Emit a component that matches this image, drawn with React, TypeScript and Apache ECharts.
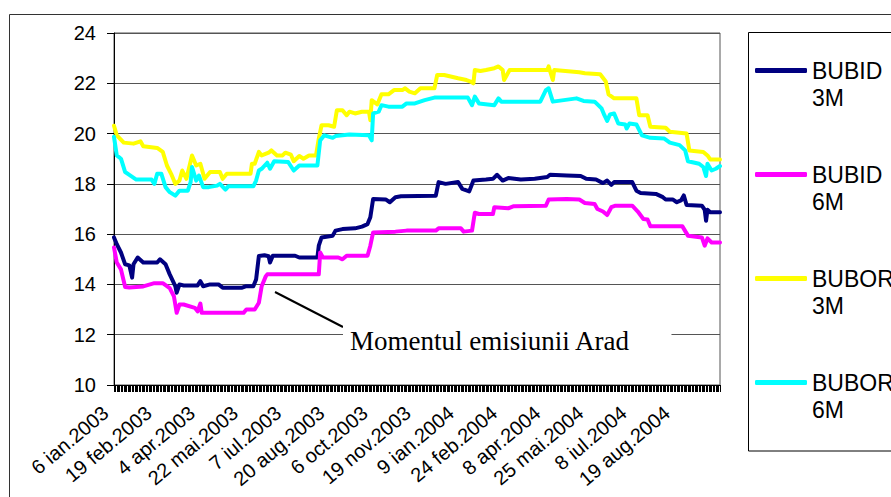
import React, { useEffect, useRef } from "react";
import * as echarts from "echarts";

// ---- data ----
const CATEGORY_COUNT = 436; // trading days shown on the axis
const CATEGORIES: string[] = Array.from({ length: CATEGORY_COUNT }, (_, i) => String(i));
const LABEL_STEP = 31;
const TICK_LABELS = [
  "6 ian.2003", "19 feb.2003", "4 apr.2003", "22 mai.2003", "7 iul.2003", "20 aug.2003",
  "6 oct.2003", "19 nov.2003", "9 ian.2004", "24 feb.2004", "8 apr.2004", "25 mai.2004",
  "8 iul.2004", "19 aug.2004",
];
const SERIES_NAMES = ["BUBID 3M", "BUBID 6M", "BUBOR 3M", "BUBOR 6M"];
const SERIES_COLORS = ["#000080", "#FF00FF", "#FFFF00", "#00FFFF"];

const BUBID_3M: [number, number][] = [
  [0,15.87],[2,15.6],[5,15.27],[8,14.8],[11,14.76],[13,14.27],[14,14.8],[17,15.07],[21,14.87],[31,14.87],
  [33,15.0],[37,14.8],[40,14.4],[44,13.93],[45,13.67],[47,14.0],[50,13.96],[60,13.96],[62,14.13],[64,13.93],
  [69,14.0],[75,14.0],[78,13.87],[92,13.87],[95,13.93],[100,13.93],[102,14.2],[104,15.13],[108,15.16],[111,15.12],
  [112,14.87],[114,15.14],[130,15.14],[133,15.07],[146,15.07],[147,15.54],[149,15.87],[157,15.94],[159,16.14],[164,16.2],
  [173,16.23],[178,16.3],[182,16.4],[184,16.67],[186,17.4],[195,17.38],[198,17.27],[202,17.47],[206,17.51],[231,17.53],
  [233,18.07],[238,18.0],[247,18.07],[250,17.8],[255,17.7],[258,18.13],[267,18.17],[272,18.2],[275,18.36],[279,18.13],
  [283,18.23],[292,18.17],[302,18.2],[311,18.27],[313,18.36],[325,18.33],[335,18.31],[339,18.2],[346,18.17],[351,18.03],
  [354,18.13],[357,17.96],[359,18.07],[372,18.07],[375,17.73],[378,17.64],[389,17.6],[394,17.47],[396,17.38],[401,17.38],
  [404,17.27],[407,17.34],[409,17.54],[411,17.16],[422,17.13],[424,16.97],[425,16.53],[426,16.97],[428,16.87],[435,16.87],
];
const BUBID_6M: [number, number][] = [
  [0,15.47],[2,14.87],[5,14.6],[8,13.9],[11,13.88],[21,13.92],[29,14.05],[35,14.05],[40,13.85],[43,13.53],
  [45,12.87],[47,13.2],[50,13.2],[58,13.07],[60,12.93],[62,13.24],[63,12.87],[69,12.87],[93,12.87],[95,13.0],
  [101,13.0],[104,13.27],[106,13.93],[109,14.33],[110,14.4],[147,14.4],[148,15.27],[150,15.07],[161,15.07],[164,15.0],
  [167,15.14],[182,15.14],[184,15.54],[186,16.07],[202,16.1],[210,16.14],[231,16.14],[233,16.23],[249,16.23],[251,16.1],
  [257,16.14],[259,16.85],[262,16.8],[272,16.8],[273,17.07],[283,17.03],[287,17.11],[310,17.13],[312,17.38],[325,17.4],
  [334,17.38],[338,17.24],[345,17.2],[347,17.0],[351,16.9],[354,16.76],[357,17.07],[360,17.13],[372,17.13],[376,16.9],
  [380,16.6],[383,16.58],[385,16.31],[408,16.31],[412,15.94],[422,15.87],[424,15.54],[426,15.83],[429,15.67],[435,15.67],
];
const BUBOR_3M: [number, number][] = [
  [0,20.31],[2,19.93],[7,19.64],[14,19.6],[19,19.69],[21,19.5],[31,19.43],[35,19.27],[38,18.73],[41,18.4],
  [44,18.0],[47,18.13],[49,18.53],[52,18.2],[56,19.13],[59,18.73],[62,18.8],[65,18.2],[69,18.47],[76,18.47],
  [78,18.2],[81,18.4],[98,18.4],[99,18.8],[101,18.8],[104,19.27],[106,19.13],[111,19.24],[113,19.33],[117,19.13],
  [121,19.13],[123,19.24],[127,19.16],[129,18.9],[133,19.11],[136,19.0],[140,19.13],[145,19.13],[147,19.8],[149,20.33],
  [154,20.33],[158,20.27],[160,20.93],[164,20.93],[167,20.73],[169,20.87],[173,20.8],[178,20.87],[183,20.87],[184,20.53],
  [185,21.33],[189,21.16],[192,21.56],[197,21.56],[201,21.73],[207,21.73],[209,21.8],[212,21.67],[216,21.6],[220,21.8],
  [230,21.8],[232,22.33],[237,22.33],[247,22.2],[253,22.13],[256,22.07],[258,22.0],[259,22.53],[263,22.49],[267,22.53],
  [273,22.6],[276,22.67],[279,22.53],[280,22.13],[284,22.53],[311,22.53],[312,22.67],[315,22.13],[316,22.53],[334,22.44],
  [338,22.4],[349,22.36],[353,22.07],[355,21.56],[359,21.4],[375,21.4],[377,20.73],[383,20.73],[385,20.27],[396,20.23],
  [399,20.07],[411,20.0],[413,19.33],[423,19.27],[426,19.13],[428,18.97],[435,18.97],
];
const BUBOR_6M: [number, number][] = [
  [0,19.87],[2,19.13],[5,19.0],[8,18.47],[11,18.36],[16,18.17],[27,18.17],[29,18.0],[31,18.4],[34,18.4],
  [37,17.87],[40,17.67],[44,17.53],[47,17.73],[53,17.73],[55,18.07],[56,18.67],[59,18.13],[61,18.33],[64,17.87],
  [68,17.87],[74,17.93],[76,18.0],[80,17.77],[82,17.9],[100,17.9],[102,18.13],[104,18.53],[106,18.6],[110,18.84],
  [112,18.6],[115,18.9],[125,18.87],[129,18.53],[133,18.73],[146,18.73],[148,19.73],[151,19.93],[157,19.83],[159,19.9],
  [169,19.96],[183,19.93],[185,19.73],[186,20.8],[190,20.87],[192,21.13],[197,21.07],[207,21.07],[210,21.2],[216,21.2],
  [223,21.33],[230,21.43],[254,21.43],[257,21.13],[259,21.47],[262,21.2],[273,21.13],[276,21.4],[278,21.27],[306,21.27],
  [310,21.73],[312,21.8],[315,21.27],[332,21.4],[337,21.3],[345,21.27],[350,21.0],[352,20.73],[354,20.5],[356,20.76],
  [359,20.8],[362,20.4],[367,20.36],[368,20.2],[370,20.4],[375,20.36],[379,19.93],[385,19.83],[395,19.8],[399,19.64],
  [406,19.54],[410,19.33],[412,18.9],[420,18.8],[423,18.67],[425,18.31],[426,18.8],[429,18.53],[432,18.6],[435,18.71],
];
const SERIES_DATA = [BUBID_3M, BUBID_6M, BUBOR_3M, BUBOR_6M];
const Y_MIN = 10;
const Y_MAX = 24;
const Y_STEP = 2;
const ANNOTATION = "Momentul emisiunii Arad";

export default function App() {
  const ref = useRef<HTMLDivElement>(null);
  useEffect(() => {
    if (!ref.current) return;
    const chart = echarts.init(ref.current, undefined, { renderer: "svg" });
    const sans = "'Liberation Sans', Arial, sans-serif";
    chart.setOption({
      animation: false,
      backgroundColor: "#ffffff",
      grid: {
        left: 114, top: 33, right: 171, bottom: 112,
        outerBoundsMode: "none",
        containLabel: false,
        show: true, borderColor: "#555", borderWidth: 1, backgroundColor: "transparent",
      },
      legend: {
        orient: "vertical",
        left: 755,
        top: 30,
        padding: 0,
        itemGap: 23,
        itemWidth: 52,
        itemHeight: 5,
        icon: "roundRect",
        formatter: (name: string) => "\n" + name.replace(" ", "\n"),
        textStyle: { fontFamily: sans, fontSize: 23, lineHeight: 27, color: "#000" },
        data: SERIES_NAMES,
      },
      xAxis: {
        type: "category",
        data: CATEGORIES,
        boundaryGap: false,
        axisLine: { lineStyle: { color: "#000", width: 1 } },
        axisTick: { show: true, interval: 0, length: 7, lineStyle: { color: "#000", width: 1 } },
        axisLabel: {
          interval: LABEL_STEP - 1,
          rotate: 40,
          margin: 18,
          padding: [0, 11, 0, 0],
          fontFamily: sans,
          fontSize: 20,
          color: "#000",
          formatter: (_v: string, i: number) =>
            i % LABEL_STEP === 0 && TICK_LABELS[i / LABEL_STEP] ? TICK_LABELS[i / LABEL_STEP] : "",
        },
        splitLine: { show: false },
      },
      yAxis: {
        type: "value",
        min: Y_MIN,
        max: Y_MAX,
        interval: Y_STEP,
        axisLine: { show: true, lineStyle: { color: "#000", width: 1 } },
        axisTick: { show: true, length: 7, lineStyle: { color: "#000" } },
        axisLabel: { margin: 18, fontFamily: sans, fontSize: 20, color: "#000" },
        splitLine: { show: true, lineStyle: { color: "#555", width: 1 } },
      },
      series: SERIES_NAMES.map((name, k) => ({
        name,
        type: "line",
        data: SERIES_DATA[k],
        symbol: "none",
        showSymbol: false,
        color: SERIES_COLORS[k],
        lineStyle: { width: 4, color: SERIES_COLORS[k], cap: "round", join: "round" },
        z: 2 + k,
      })),
      graphic: [
        {
          type: "rect", z: 0, silent: true,
          shape: { x: 9.5, y: 14.5, width: 1200, height: 1200 },
          style: { fill: "none", stroke: "#333", lineWidth: 1 },
        },
        {
          type: "rect", z: 0, silent: true,
          shape: { x: 748.5, y: 32.5, width: 400, height: 418.5 },
          style: { fill: "none", stroke: "#000", lineWidth: 1 },
        },
        {
          type: "line", z: 10, silent: true,
          shape: { x1: 275, y1: 292, x2: 343, y2: 327 },
          style: { stroke: "#000", lineWidth: 2 },
        },
        {
          type: "text", z: 10, silent: true,
          x: 343, y: 341,
          style: {
            text: ANNOTATION,
            fontFamily: "'Liberation Serif', 'Times New Roman', serif",
            fontSize: 27,
            fill: "#000",
            align: "left",
            verticalAlign: "middle",
            backgroundColor: "#fff",
            padding: [6, 41, 6, 7],
          },
        },
      ],
    });
    return () => chart.dispose();
  }, []);
  return (
    <div
      ref={ref}
      style={{ position: "absolute", left: 0, top: 0, width: 891, height: 497, background: "#fff" }}
    />
  );
}
